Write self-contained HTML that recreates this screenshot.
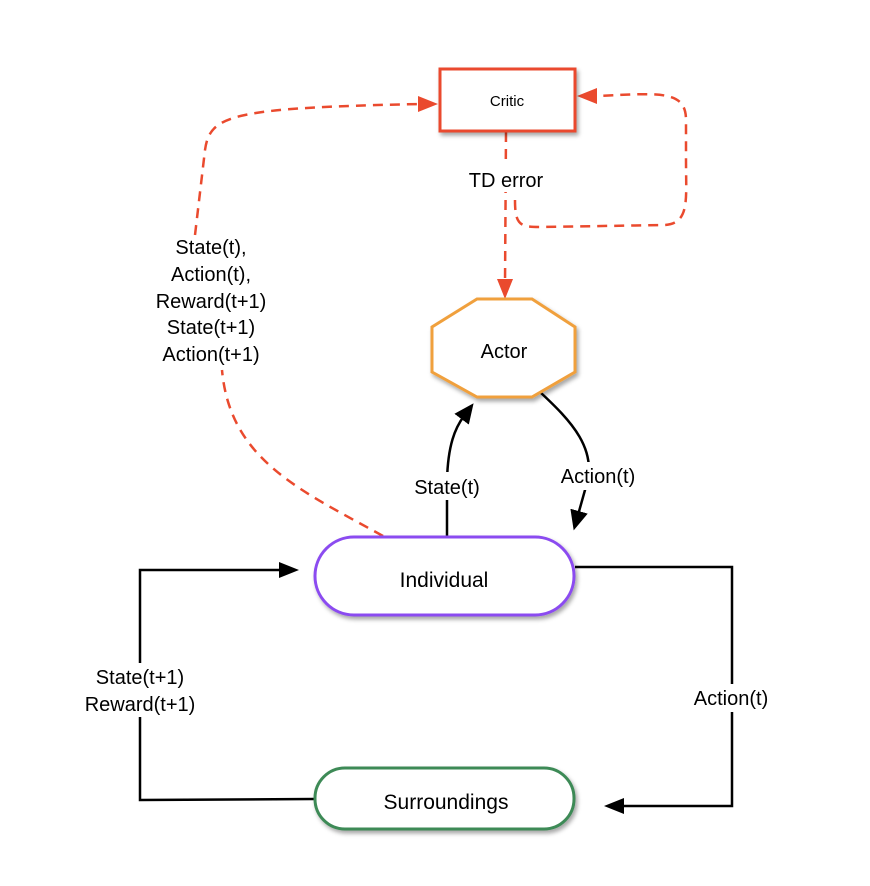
<!DOCTYPE html>
<html><head><style>body{margin:0;background:#fff}svg{display:block}text{font-family:"Liberation Sans",Arial,sans-serif;fill:#000}</style></head>
<body>
<svg width="870" height="886" viewBox="0 0 870 886" xmlns="http://www.w3.org/2000/svg">
<defs>
<filter id="sh" x="-10%" y="-10%" width="130%" height="140%"><feDropShadow dx="2" dy="3" stdDeviation="2" flood-color="#000" flood-opacity="0.35"/></filter>
<marker id="ab" markerWidth="20" markerHeight="18" refX="4" refY="9" orient="auto" markerUnits="userSpaceOnUse" viewBox="0 0 20 18"><path d="M0,0L20,9L0,18z" fill="#000"/></marker>
</defs>
<!-- red dashed lines -->
<g stroke="#ea4a2e" stroke-width="2.5" fill="none" stroke-dasharray="10,7">
<path d="M383,536 C300,490 230,460 222,370"/>
<path d="M195,235 L205,150 C210,115 230,108 420,104"/>
<path d="M506,132 L505,285"/>
<path d="M515,200 C515,225 520,227 540,227 L665,225 C690,223 686,200 686,160 L686,120 C686,90 660,93 598,96"/>
</g>
<g fill="#ea4a2e">
<path d="M438,104 L418,96 L418,112z"/>
<path d="M505,299 L497,279 L513,279z"/>
<path d="M577,96 L597,88 L597,104z"/>
</g>
<!-- black connectors -->
<g stroke="#000" stroke-width="2.5" fill="none">
<path d="M447,537 L447,480 C448,445 455,428 464,416" marker-end="url(#ab)"/>
<path d="M540,392 C570,420 600,450 585,490 L578,515" marker-end="url(#ab)"/>
<path d="M575,567 L732,567 L732,806 L620,806"/>
<path d="M314,799 L140,800 L140,570 L285,570"/>
</g>
<path d="M299,570 L279,562 L279,578z" fill="#000"/>
<path d="M604,806 L624,798 L624,814z" fill="#000"/>
<!-- nodes -->
<rect x="440" y="69" width="135" height="62" fill="#fff" stroke="#ea4a2e" stroke-width="3" filter="url(#sh)"/>
<text x="507" y="106" font-size="15" text-anchor="middle">Critic</text>
<polygon points="477,299 532,299 575,327 575,372 532,397 477,397 432,372 432,327" fill="#fff" stroke="#f0a03c" stroke-width="3" filter="url(#sh)"/>
<text x="504" y="358" font-size="20" text-anchor="middle">Actor</text>
<rect x="315" y="537" width="259" height="78" rx="39" fill="#fff" stroke="#8b4cf0" stroke-width="3" filter="url(#sh)"/>
<text x="444" y="587" font-size="21" text-anchor="middle">Individual</text>
<rect x="315" y="768" width="259" height="61" rx="30" fill="#fff" stroke="#3e8a57" stroke-width="3" filter="url(#sh)"/>
<text x="446" y="809" font-size="21" text-anchor="middle">Surroundings</text>
<!-- label backgrounds -->
<g fill="#fff">
<rect x="462" y="166" width="90" height="26"/>
<rect x="408" y="472" width="80" height="28"/>
<rect x="553" y="462" width="90" height="28"/>
<rect x="686" y="684" width="90" height="28"/>
<rect x="78" y="663" width="126" height="54"/>
</g>
<g font-size="20" text-anchor="middle">
<text x="506" y="187">TD error</text>
<text x="211" y="254">State(t),</text>
<text x="211" y="281">Action(t),</text>
<text x="211" y="308">Reward(t+1)</text>
<text x="211" y="334">State(t+1)</text>
<text x="211" y="361">Action(t+1)</text>
<text x="447" y="494">State(t)</text>
<text x="598" y="483">Action(t)</text>
<text x="731" y="705">Action(t)</text>
<text x="140" y="684">State(t+1)</text>
<text x="140" y="711">Reward(t+1)</text>
</g>
</svg>
</body></html>
